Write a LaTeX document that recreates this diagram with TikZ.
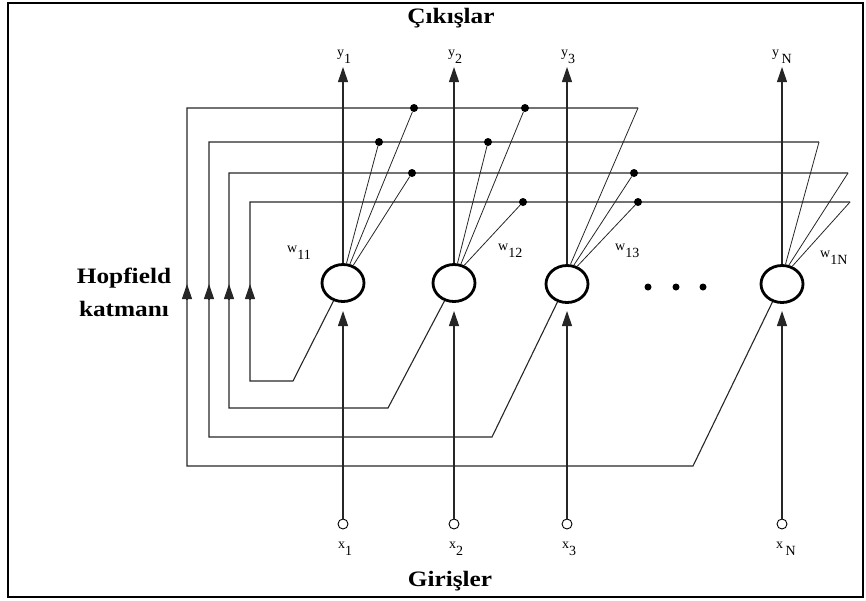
\documentclass[tikz,border=0pt]{standalone}
\usepackage{fontspec}
\setmainfont{Liberation Serif}
\usetikzlibrary{arrows.meta,shapes.geometric}
\newcommand\lowsub[1]{\raisebox{-7pt}{#1}}
\newcommand\widetxt[1]{\scalebox{1.15}[1]{#1}}

\begin{document}
\begin{tikzpicture}[x=1pt,y=-1pt,
  wire/.style={line width=1.1pt, draw=black!85},
  fan/.style={line width=0.8pt, draw=black!85},
  tip/.style={-{Triangle[width=10pt,length=15pt]}},
  neuron/.style={ellipse, draw, line width=2.8pt, minimum width=42pt, minimum height=37pt, inner sep=0pt},
  dot/.style={circle, fill, inner sep=0pt, minimum size=8pt},
  sdot/.style={circle, fill, inner sep=0pt, minimum size=7pt},
  port/.style={circle, draw, line width=0.9pt, fill=white, inner sep=0pt, minimum size=10pt},
  lbl/.style={font=\fontsize{14}{15}\selectfont, inner sep=0pt, anchor=base west},
  title/.style={font=\bfseries\fontsize{22}{24}\selectfont, inner sep=0pt, anchor=base}
]
\useasboundingbox (0,0) rectangle (866,600);
\draw[line width=2.5pt] (8,3) rectangle (863,597);

% titles
\node[title] (outT) at (451,23) {\widetxt{Çıkışlar}};
\node[title] (inT) at (450,586) {\widetxt{Girişler}};
\node[title] (layT) at (124,283) {\widetxt{Hopfield}};
\node[title] (layT2) at (124,316) {\widetxt{katmanı}};

% neurons
\node[neuron] (n1) at (343,283) {};
\node[neuron] (n2) at (454,283) {};
\node[neuron] (n3) at (567,284) {};
\node[neuron] (nN) at (782,284) {};

% ellipsis between neuron 3 and neuron N
\node[sdot] (e1) at (648,287) {};
\node[sdot] (e2) at (676,287) {};
\node[sdot] (e3) at (703,287) {};

% outputs and inputs
\foreach \n/\x in {1/343,2/454,3/567,N/782}{
  \coordinate (o\n) at (\x,67);
  \draw[wire,tip] (n\n) -- (o\n);
  \node[port] (p\n) at (\x,524) {};
  \coordinate (i\n) at (\x,311);
  \draw[wire,tip] (p\n) -- (i\n);
}
\node[lbl] (y1) at (337,56) {y\lowsub{1}};
\node[lbl] (y2) at (448,56) {y\lowsub{2}};
\node[lbl] (y3) at (561,56) {y\lowsub{3}};
\node[lbl] (yN) at (772,56) {y\,\lowsub{N}};
\node[lbl] (x1) at (338,548) {x\lowsub{1}};
\node[lbl] (x2) at (449,548) {x\lowsub{2}};
\node[lbl] (x3) at (562,548) {x\lowsub{3}};
\node[lbl] (xN) at (776,548) {x\,\lowsub{N}};

% weight labels
\node[lbl] (w11) at (287,252) {w\lowsub{11}};
\node[lbl] (w12) at (498,250) {w\lowsub{12}};
\node[lbl] (w13) at (615,250) {w\lowsub{13}};
\node[lbl] (w1N) at (820,257) {w\lowsub{1N}};

% feedback loop corners
\coordinate (aB) at (693,466); \coordinate (aL) at (187,466);
\coordinate (aT) at (187,108); \coordinate (aR) at (638,108);
\coordinate (bB) at (492,437); \coordinate (bL) at (209,437);
\coordinate (bT) at (209,142); \coordinate (bR) at (819,142);
\coordinate (cB) at (388,408); \coordinate (cL) at (229,408);
\coordinate (cT) at (229,173); \coordinate (cR) at (848,173);
\coordinate (dB) at (293,381); \coordinate (dL) at (250,381);
\coordinate (dT) at (250,202); \coordinate (dR) at (850,202);

\draw[wire] (nN.-118) -- (aB) -- (aL) -- (aT) -- (aR);
\draw[wire] (n3.-118) -- (bB) -- (bL) -- (bT) -- (bR);
\draw[wire] (n2.-118) -- (cB) -- (cL) -- (cT) -- (cR);
\draw[wire] (n1.-118) -- (dB) -- (dL) -- (dT) -- (dR);

% upward arrowheads on the feedback lines
\foreach \l/\x in {a/187,b/209,c/229,d/250}{
  \coordinate (\l A) at (\x,284);
  \coordinate (\l S) at (\x,300);
  \draw[wire,tip] (\l S) -- (\l A);
}

% connection points
\node[dot] (a1) at (414,108) {};
\node[dot] (a2) at (525,108) {};
\node[dot] (b1) at (379,142) {};
\node[dot] (b2) at (488,142) {};
\node[dot] (c1) at (412,173) {};
\node[dot] (c3) at (634,173) {};
\node[dot] (d2) at (523,202) {};
\node[dot] (d3) at (638,202) {};

% weighted inputs of each neuron
\draw[fan] (n1.80) -- (b1);
\draw[fan] (n1.70) -- (a1);
\draw[fan] (n1.60) -- (c1);
\draw[fan] (n2.80) -- (b2);
\draw[fan] (n2.70) -- (a2);
\draw[fan] (n2.60) -- (d2);
\draw[fan] (n3.80) -- (aR);
\draw[fan] (n3.70) -- (c3);
\draw[fan] (n3.60) -- (d3);
\draw[fan] (nN.80) -- (bR);
\draw[fan] (nN.70) -- (cR);
\draw[fan] (nN.60) -- (dR);
\end{tikzpicture}
\end{document}
